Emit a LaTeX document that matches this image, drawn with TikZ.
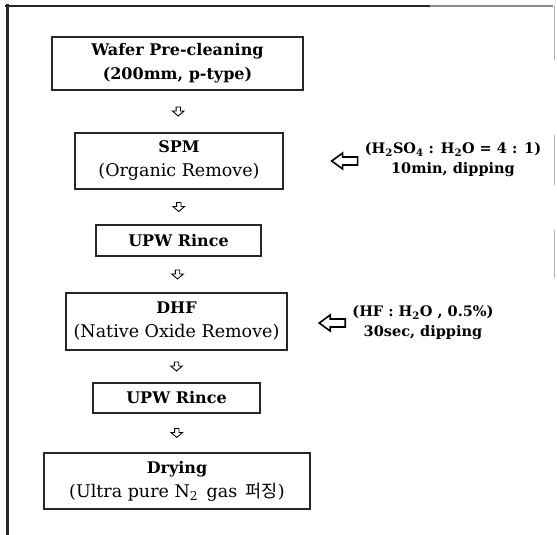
\documentclass[tikz,border=0pt]{standalone}
\usepackage{fontspec}
\setmainfont{DejaVu Serif}
\newfontfamily\kofont{Noto Sans CJK KR}
\usetikzlibrary{calc}
\begin{document}
\begin{tikzpicture}[x=1pt,y=-1pt,
  stepbox/.style={draw=black!85, line width=1.6pt, fill=white, rectangle, align=center,
    inner sep=0pt, font=\fontsize{16}{24}\selectfont},
  sub/.style={},
  sidetext/.style={align=center, inner sep=0pt, font=\fontsize{14.5}{20}\selectfont\bfseries},
  smallarr/.style={draw=black, line width=0.9pt, line join=miter},
  sidearr/.style={draw=black, line width=1.6pt, line join=miter}]
\newcommand{\rl}[1]{{\fontsize{17.5}{24}\selectfont #1}}
\useasboundingbox (0,0) rectangle (557,535);
% frame
\draw[line width=3pt, black!85] (7,4) -- (7,535);
\draw[line width=2.5pt, black!85] (5,6) -- (430,6);
\draw[line width=1.2pt, black!45] (430,6) -- (553,6);
\draw[line width=0.8pt, black!30] (554,6) -- (554,60);
\draw[line width=0.8pt, black!30] (554,135) -- (554,185);
\draw[line width=0.8pt, black!30] (554,230) -- (554,278);
% boxes
\node[stepbox, minimum width=251, minimum height=53] (b1) at (177.5,63.5)
  {\textbf{Wafer Pre-cleaning}\\\textbf{(200mm, p-type)}};
\node[stepbox, minimum width=208, minimum height=56] (b2) at (179,161)
  {\textbf{SPM}\\\rl{(Organic Remove)}};
\node[stepbox, minimum width=165, minimum height=31] (b3) at (178.5,240.5)
  {\textbf{UPW Rince}};
\node[stepbox, minimum width=221, minimum height=57] (b4) at (176.5,321.5)
  {\textbf{DHF}\\\rl{(Native Oxide Remove)}};
\node[stepbox, minimum width=167, minimum height=30] (b5) at (176.5,398)
  {\textbf{UPW Rince}};
\node[stepbox, minimum width=266, minimum height=56] (b6) at (177,481)
  {\textbf{Drying}\\\rl{(Ultra pure N\textsubscript{2}\, gas \,{\kofont 퍼징})}};
% small flow arrows between boxes
\foreach \a/\b in {b1/b2,b2/b3,b3/b4,b4/b5,b5/b6}{
  \coordinate (m) at ($(\a.south)!0.5!(\b.north)$);
  \draw[smallarr] ($(m)+(-2.2,-4.5)$) -- ++(4.4,0) -- ++(0,4) -- ++(3.6,0)
    -- ($(m)+(0,4.5)$) -- ($(m)+(-5.8,-0.5)$) -- ++(3.6,0) -- cycle;
}
% side texts
\node[sidetext] (t1) at (453,160)
  {(H\textsubscript{2}SO\textsubscript{4} : H\textsubscript{2}O = 4 : 1)\\10min, dipping};
\node[sidetext] (t2) at (423,323)
  {(HF : H\textsubscript{2}O , 0.5\%)\\30sec, dipping};
% side hollow arrows
\coordinate (a1) at ($(t1.west)+(-7,-3)$);
\draw[sidearr] (a1) -- ++(-15,0) -- ++(0,-4) -- ++(-11,8) -- ++(11,8) -- ++(0,-4) -- ++(15,0) -- cycle;
\coordinate (a2) at ($(t2.west)+(-7,-4)$);
\draw[sidearr] (a2) -- ++(-15,0) -- ++(0,-4) -- ++(-11,8) -- ++(11,8) -- ++(0,-4) -- ++(15,0) -- cycle;
\end{tikzpicture}
\end{document}
